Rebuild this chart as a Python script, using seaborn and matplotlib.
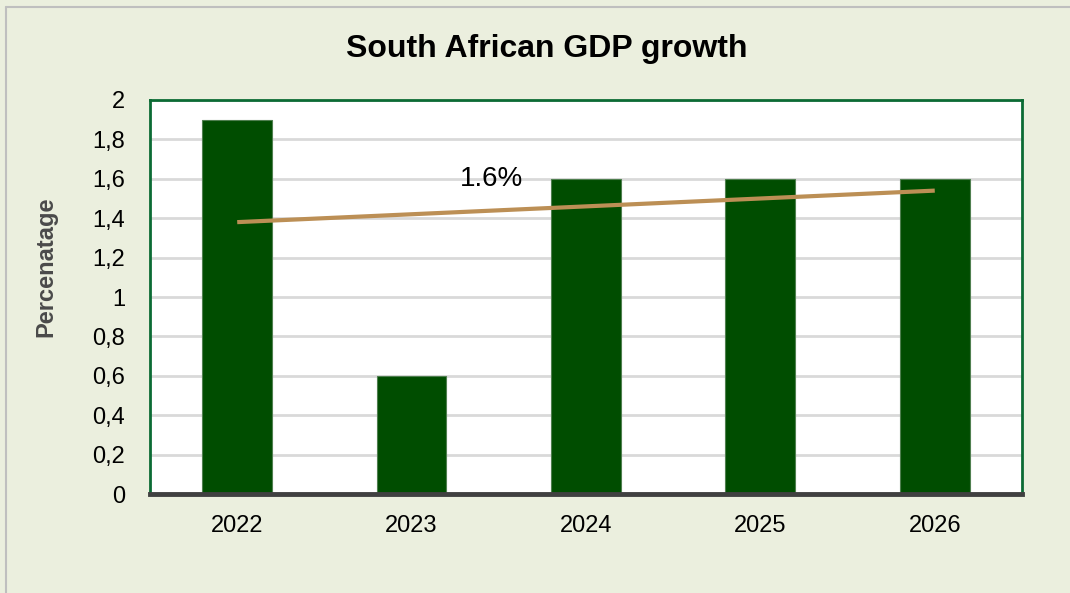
import numpy as np
import pandas as pd
import matplotlib
matplotlib.use("Agg")
import matplotlib.pyplot as plt
from matplotlib.lines import Line2D
import seaborn as sns

years = ["2022", "2023", "2024", "2025", "2026"]
growth = [1.9, 0.6, 1.6, 1.6, 1.6]
y_ticks = [0, 0.2, 0.4, 0.6, 0.8, 1.0, 1.2, 1.4, 1.6, 1.8, 2.0]
y_tick_labels = ["0", "0,2", "0,4", "0,6", "0,8", "1", "1,2", "1,4", "1,6", "1,8", "2"]
avg_label = "1.6%"
avg_value = 1.6

sns.set_theme(style="white")
plt.rcParams["font.family"] = ["Liberation Sans", "DejaVu Sans"]

bg = "#EBEFDE"
bar_color = "#004D00"
frame_green = "#0B6B34"
trend_color = "#BC8F55"

fig = plt.figure(figsize=(10.7, 5.93), dpi=100, facecolor=bg)
ax = fig.add_axes([0.1402, 0.1669, 0.8149, 0.6645])
ax.set_facecolor("white")

df = pd.DataFrame({"year": years, "growth": growth})
sns.barplot(data=df, x="year", y="growth", color=bar_color, width=0.4,
            saturation=1, edgecolor="#4F7F4F", linewidth=0.8, ax=ax, zorder=3)

# linear trend across the five years
xs = np.arange(len(years))
slope, intercept = np.polyfit(xs, growth, 1)
ax.plot(xs, slope * xs + intercept, color=trend_color, lw=3, zorder=4,
        solid_capstyle="butt")

ax.text(1.46, avg_value, avg_label, fontsize=20, color="black",
        ha="center", va="center", zorder=5)

ax.set_ylim(0, 2)
ax.set_xlim(-0.5, len(years) - 0.5)
ax.set_yticks(y_ticks)
ax.set_yticklabels(y_tick_labels)
ax.yaxis.grid(True, color="#D9D9D9", lw=2)
ax.set_axisbelow(True)
ax.tick_params(axis="y", length=0, pad=18, labelsize=17, colors="black")
ax.tick_params(axis="x", length=0, pad=15, labelsize=17, colors="black")

ax.set_xlabel("")
ax.set_ylabel("Percenatage", fontsize=17, fontweight="bold", color="#4A4A4A")
ax.yaxis.set_label_coords(-0.1065, 0.576)

for side in ("left", "top", "right"):
    ax.spines[side].set_color(frame_green)
    ax.spines[side].set_linewidth(2)
ax.spines["bottom"].set_color("#404040")
ax.spines["bottom"].set_linewidth(3.5)
ax.spines["bottom"].set_zorder(6)

fig.suptitle("South African GDP growth", fontsize=23, fontweight="bold",
             color="black", x=0.511, y=0.918, va="center")

fig.add_artist(Line2D([0.0056, 0.0056], [0, 0.988], transform=fig.transFigure,
                      color="#BFBFBF", lw=1.5))
fig.add_artist(Line2D([0.0056, 1], [0.988, 0.988], transform=fig.transFigure,
                      color="#BFBFBF", lw=1.5))

fig.savefig("out.png", dpi=100, facecolor=bg)
